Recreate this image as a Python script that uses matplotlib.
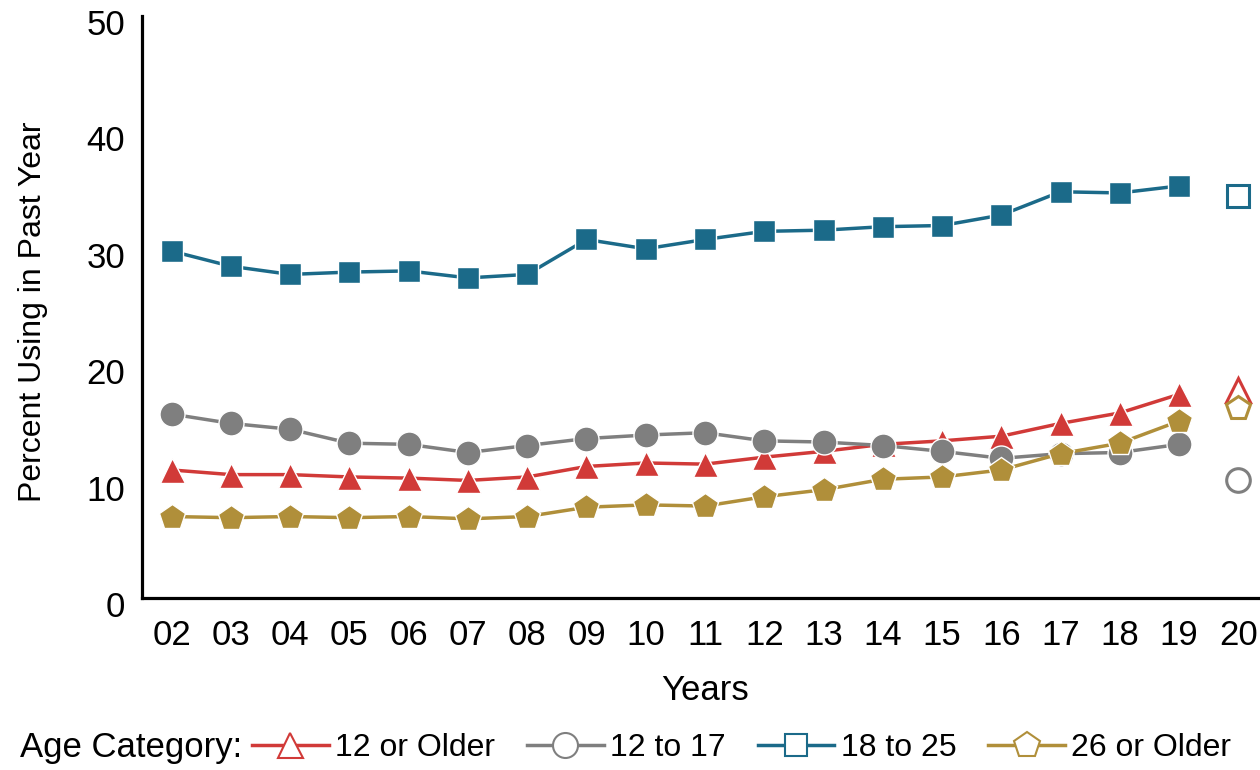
import matplotlib
matplotlib.use("Agg")
import matplotlib.pyplot as plt
import matplotlib.transforms as mtransforms
from matplotlib.lines import Line2D

plt.rcParams["font.family"] = ["Liberation Sans Narrow", "Liberation Sans", "DejaVu Sans"]

years = ["02", "03", "04", "05", "06", "07", "08", "09", "10", "11",
         "12", "13", "14", "15", "16", "17", "18", "19", "20"]

# percent using in past year, 2002-2019 (joined) plus 2020 (separate open marker)
older_12 = [11.0, 10.6, 10.6, 10.4, 10.3, 10.1, 10.4, 11.3, 11.6, 11.5,
            12.1, 12.6, 13.2, 13.5, 13.9, 15.0, 15.9, 17.5, 17.9]
age_12_17 = [15.8, 15.0, 14.5, 13.3, 13.2, 12.5, 13.1, 13.7, 14.0, 14.2,
             13.5, 13.4, 13.1, 12.6, 12.0, 12.4, 12.5, 13.2, 10.1]
age_18_25 = [29.8, 28.5, 27.8, 28.0, 28.1, 27.5, 27.8, 30.8, 30.0, 30.8,
             31.5, 31.6, 31.9, 32.0, 32.9, 34.9, 34.8, 35.4, 34.5]
older_26 = [7.0, 6.9, 7.0, 6.9, 7.0, 6.8, 7.0, 7.8, 8.0, 7.9,
            8.7, 9.3, 10.2, 10.4, 11.0, 12.4, 13.3, 15.2, 16.3]

series = [
    ("12 or Older", older_12, "#D13A38", "^", 18),
    ("12 to 17", age_12_17, "#7F7F7F", "o", 18),
    ("18 to 25", age_18_25, "#1B6A89", "s", 16.5),
    ("26 or Older", older_26, "#B08F3A", "p", 19),
]
# draw order: blue, gray, gold, red on top as in reference
draw_order = [2, 1, 3, 0]

fig = plt.figure(figsize=(12.6, 7.7), dpi=100)
ax = fig.add_axes([142 / 1260, 172 / 770, 1126 / 1260, 582 / 770])

x = list(range(len(years)))
for i in draw_order:
    label, values, color, marker, size = series[i]
    ax.plot(x[:-1], values[:-1], color=color, linewidth=2.5,
            marker=marker, markersize=size, markerfacecolor=color,
            markeredgecolor="white", markeredgewidth=1.0, zorder=3 + i)
    ax.plot(x[-1:], values[-1:], linestyle="none", marker=marker,
            markersize=size - 1, markerfacecolor="white",
            markeredgecolor=color, markeredgewidth=2.2, zorder=3 + i)

ax.set_xlim(-0.5, 18.5)
ax.set_ylim(0, 50)
ax.set_xticks(x)
ax.set_xticklabels(years)
ax.set_yticks([0, 10, 20, 30, 40, 50])
ax.tick_params(axis="both", length=0, labelsize=25)
ax.tick_params(axis="x", pad=15)
ax.tick_params(axis="y", pad=12)
offset = mtransforms.ScaledTranslation(0, -6 / 100, fig.dpi_scale_trans)
for lbl in ax.get_yticklabels():
    lbl.set_transform(lbl.get_transform() + offset)

for side in ["top", "right"]:
    ax.spines[side].set_visible(False)
for side in ["left", "bottom"]:
    ax.spines[side].set_linewidth(2.3)
    ax.spines[side].set_color("black")

fig.text(705 / 1260, 1 - 690 / 770, "Years", fontsize=25,
         ha="center", va="center")
fig.text(33 / 1260, 1 - 312 / 770, "Percent Using in Past Year", fontsize=23,
         ha="center", va="center", rotation=90)

fig.text(20 / 1260, 1 - 748 / 770, "Age Category:", fontsize=25,
         ha="left", va="center")
handles = []
for label, values, color, marker, size in series:
    handles.append(Line2D([0], [0], color=color, linewidth=2.5, marker=marker,
                          markersize=size, markerfacecolor="white",
                          markeredgecolor=color, markeredgewidth=1.5,
                          label=label))
fig.legend(handles=handles, loc="center left", ncol=4, frameon=False,
           bbox_to_anchor=(252 / 1260, 1 - 748 / 770), fontsize=23,
           handlelength=2.4, handletextpad=0.2, columnspacing=1.0,
           borderaxespad=0, borderpad=0)

fig.savefig("out.png", dpi=100)
